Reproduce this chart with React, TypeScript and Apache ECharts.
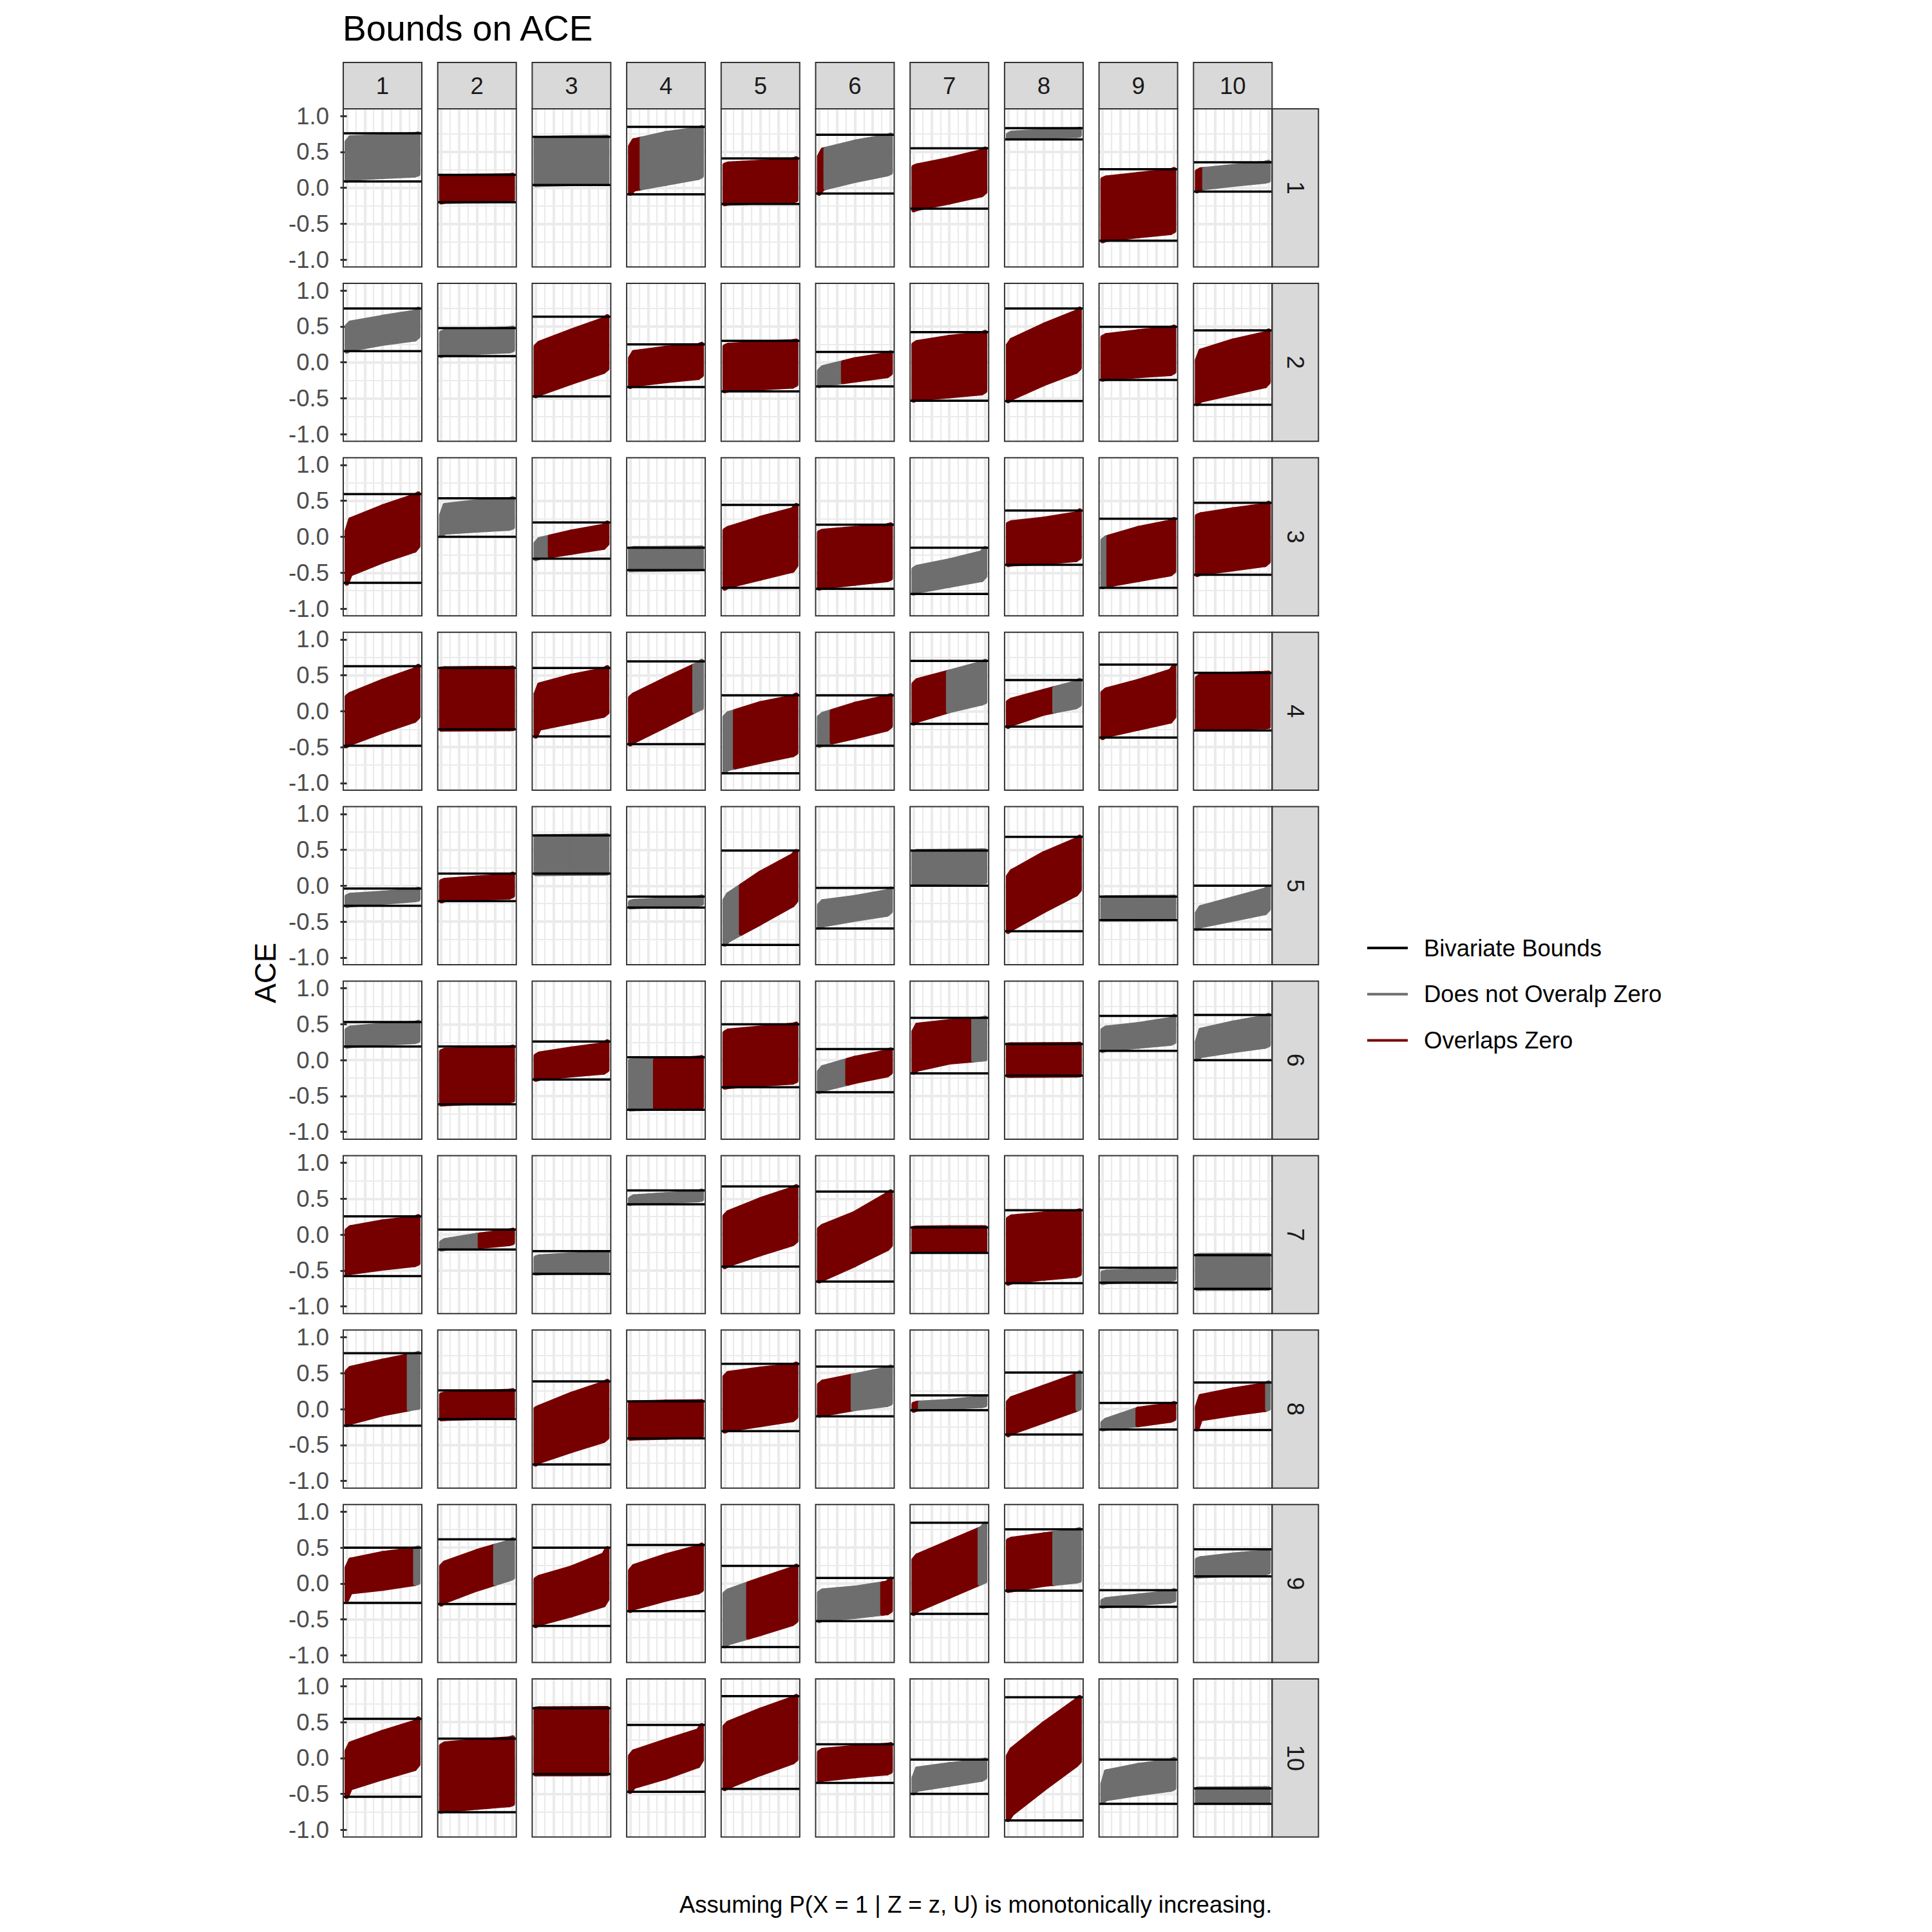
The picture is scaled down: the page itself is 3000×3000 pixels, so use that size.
import React, { useEffect, useRef } from "react";
import * as echarts from "echarts";

// ---------------- data ----------------
const FACETS = ["1", "2", "3", "4", "5", "6", "7", "8", "9", "10"];
const X_POS = [0, 0.05, 0.5, 0.95, 1];
const Y_TICKS = [-1, -0.5, 0, 0.5, 1];

// Bivariate bounds (horizontal black lines), [row][col]
const BIV_LOWER = [
  [0.09, -0.2, 0.04, -0.09, -0.225, -0.08, -0.29, 0.675, -0.735, -0.053],
  [0.155, 0.085, -0.475, -0.345, -0.405, -0.335, -0.535, -0.54, -0.245, -0.59],
  [-0.64, 0.0, -0.305, -0.465, -0.71, -0.725, -0.795, -0.39, -0.71, -0.53],
  [-0.48, -0.252, -0.35, -0.458, -0.863, -0.48, -0.176, -0.214, -0.366, -0.267],
  [-0.28, -0.214, 0.168, -0.305, -0.824, -0.595, 0.0, -0.634, -0.48, -0.61],
  [0.19, -0.615, -0.27, -0.69, -0.377, -0.446, -0.185, -0.215, 0.13, 0.0],
  [-0.577, -0.208, -0.546, 0.423, -0.446, -0.654, -0.254, -0.677, -0.67, -0.754],
  [-0.23, -0.138, -0.77, -0.408, -0.308, -0.1, -0.015, -0.354, -0.285, -0.292],
  [-0.27, -0.285, -0.59, -0.385, -0.885, -0.523, -0.423, -0.1, -0.323, 0.1],
  [-0.54, -0.754, -0.223, -0.47, -0.43, -0.346, -0.5, -0.87, -0.638, -0.638],
];
const BIV_UPPER = [
  [0.76, 0.18, 0.71, 0.85, 0.41, 0.74, 0.55, 0.83, 0.26, 0.357],
  [0.75, 0.475, 0.635, 0.25, 0.3, 0.145, 0.42, 0.75, 0.495, 0.445],
  [0.595, 0.535, 0.2, -0.152, 0.443, 0.168, -0.153, 0.366, 0.25, 0.473],
  [0.626, 0.603, 0.603, 0.695, 0.22, 0.22, 0.7, 0.435, 0.65, 0.534],
  [-0.04, 0.168, 0.7, -0.153, 0.488, -0.03, 0.488, 0.68, -0.153, 0.0],
  [0.53, 0.19, 0.26, 0.04, 0.5, 0.154, 0.59, 0.223, 0.615, 0.63],
  [0.254, 0.07, -0.23, 0.615, 0.67, 0.6, 0.1, 0.34, -0.46, -0.285],
  [0.777, 0.26, 0.385, 0.108, 0.63, 0.592, 0.19, 0.508, 0.085, 0.37],
  [0.5, 0.615, 0.5, 0.538, 0.246, 0.077, 0.846, 0.754, -0.092, 0.477],
  [0.546, 0.27, 0.692, 0.46, 0.86, 0.19, -0.023, 0.846, -0.023, -0.423],
];

// Lower edge of the ACE bounds band at X_POS, [row][col][k]
const BAND_LOWER = [
  [[0.1, 0.13, 0.155, 0.175, 0.19], [-0.2, -0.19, -0.185, -0.175, -0.165], [0.04, 0.045, 0.055, 0.065, 0.07], [-0.08, -0.02, 0.06, 0.14, 0.165], [-0.225, -0.215, -0.2, -0.185, -0.17], [-0.08, -0.01, 0.1, 0.19, 0.21], [-0.31, -0.29, -0.2, -0.1, -0.06], [0.69, 0.7, 0.715, 0.725, 0.735], [-0.74, -0.72, -0.67, -0.625, -0.6], [-0.045, -0.006, 0.045, 0.09, 0.1]],
  [[0.15, 0.18, 0.26, 0.32, 0.36], [0.09, 0.11, 0.135, 0.155, 0.17], [-0.47, -0.44, -0.28, -0.13, -0.09], [-0.34, -0.31, -0.26, -0.215, -0.18], [-0.4, -0.385, -0.36, -0.335, -0.31], [-0.33, -0.31, -0.25, -0.19, -0.155], [-0.53, -0.51, -0.47, -0.43, -0.4], [-0.54, -0.5, -0.3, -0.13, -0.08], [-0.24, -0.225, -0.19, -0.16, -0.135], [-0.58, -0.53, -0.43, -0.33, -0.28]],
  [[-0.65, -0.52, -0.34, -0.19, -0.13], [0.02, 0.06, 0.09, 0.115, 0.13], [-0.31, -0.29, -0.22, -0.15, -0.1], [-0.465, -0.46, -0.455, -0.45, -0.44], [-0.72, -0.69, -0.58, -0.47, -0.4], [-0.72, -0.7, -0.65, -0.6, -0.58], [-0.79, -0.76, -0.68, -0.6, -0.55], [-0.39, -0.38, -0.36, -0.32, -0.29], [-0.7, -0.68, -0.6, -0.52, -0.48], [-0.53, -0.51, -0.45, -0.39, -0.35]],
  [[-0.48, -0.45, -0.28, -0.13, -0.08], [-0.255, -0.252, -0.25, -0.248, -0.245], [-0.35, -0.24, -0.15, -0.06, -0.02], [-0.46, -0.42, -0.2, 0.025, 0.045], [-0.84, -0.8, -0.7, -0.61, -0.58], [-0.48, -0.46, -0.36, -0.25, -0.21], [-0.17, -0.13, 0.005, 0.11, 0.13], [-0.215, -0.18, -0.03, 0.06, 0.09], [-0.37, -0.34, -0.24, -0.14, -0.08], [-0.245, -0.24, -0.23, -0.22, -0.215]],
  [[-0.28, -0.27, -0.235, -0.2, -0.19], [-0.215, -0.2, -0.18, -0.16, -0.14], [0.165, 0.165, 0.168, 0.17, 0.172], [-0.3, -0.295, -0.28, -0.26, -0.25], [-0.82, -0.76, -0.52, -0.27, -0.21], [-0.58, -0.55, -0.47, -0.4, -0.36], [0.03, 0.04, 0.045, 0.05, 0.055], [-0.64, -0.6, -0.35, -0.12, -0.06], [-0.47, -0.468, -0.465, -0.46, -0.455], [-0.6, -0.56, -0.47, -0.38, -0.33]],
  [[0.19, 0.2, 0.23, 0.255, 0.27], [-0.615, -0.61, -0.59, -0.57, -0.56], [-0.27, -0.255, -0.21, -0.17, -0.14], [-0.685, -0.68, -0.67, -0.66, -0.65], [-0.38, -0.37, -0.34, -0.31, -0.29], [-0.44, -0.41, -0.3, -0.21, -0.175], [-0.17, -0.13, -0.03, 0.01, 0.015], [-0.215, -0.215, -0.213, -0.212, -0.21], [0.13, 0.15, 0.19, 0.23, 0.25], [0.01, 0.06, 0.13, 0.19, 0.21]],
  [[-0.56, -0.53, -0.47, -0.42, -0.4], [-0.205, -0.195, -0.17, -0.13, -0.115], [-0.54, -0.535, -0.52, -0.505, -0.5], [0.43, 0.44, 0.46, 0.48, 0.49], [-0.45, -0.42, -0.27, -0.13, -0.09], [-0.65, -0.62, -0.42, -0.2, -0.15], [-0.24, -0.235, -0.232, -0.23, -0.23], [-0.68, -0.66, -0.61, -0.57, -0.55], [-0.67, -0.66, -0.64, -0.625, -0.615], [-0.754, -0.753, -0.752, -0.751, -0.75]],
  [[-0.22, -0.19, -0.07, 0.015, 0.02], [-0.14, -0.135, -0.12, -0.105, -0.1], [-0.77, -0.73, -0.58, -0.44, -0.4], [-0.41, -0.405, -0.395, -0.38, -0.37], [-0.31, -0.29, -0.22, -0.15, -0.11], [-0.09, -0.075, 0.005, 0.06, 0.078], [-0.02, -0.002, 0.02, 0.045, 0.055], [-0.36, -0.33, -0.17, -0.01, 0.01], [-0.28, -0.27, -0.22, -0.16, -0.14], [-0.28, -0.14, -0.07, -0.01, 0.005]],
  [[-0.23, -0.12, -0.07, -0.003, 0.012], [-0.29, -0.25, -0.08, 0.06, 0.08], [-0.59, -0.56, -0.44, -0.3, -0.22], [-0.38, -0.34, -0.22, -0.12, -0.09], [-0.87, -0.83, -0.7, -0.56, -0.52], [-0.52, -0.5, -0.46, -0.41, -0.38], [-0.42, -0.37, -0.18, 0.01, 0.03], [-0.1, -0.09, -0.015, 0.03, 0.04], [-0.32, -0.31, -0.28, -0.245, -0.23], [0.1, 0.105, 0.125, 0.145, 0.155]],
  [[-0.54, -0.42, -0.28, -0.15, -0.09], [-0.745, -0.73, -0.69, -0.655, -0.64], [-0.225, -0.224, -0.223, -0.222, -0.22], [-0.47, -0.4, -0.27, -0.11, -0.03], [-0.43, -0.4, -0.22, -0.06, -0.02], [-0.32, -0.3, -0.25, -0.21, -0.19], [-0.49, -0.44, -0.37, -0.3, -0.275], [-0.86, -0.78, -0.43, -0.1, -0.05], [-0.61, -0.57, -0.5, -0.44, -0.42], [-0.61, -0.605, -0.6, -0.6, -0.6]],
];

// Upper edge of the ACE bounds band at X_POS, [row][col][k]
const BAND_UPPER = [
  [[0.64, 0.7, 0.72, 0.745, 0.755], [0.15, 0.16, 0.165, 0.172, 0.178], [0.68, 0.69, 0.7, 0.705, 0.71], [0.58, 0.66, 0.76, 0.82, 0.845], [0.32, 0.335, 0.36, 0.39, 0.41], [0.44, 0.53, 0.64, 0.72, 0.74], [0.29, 0.31, 0.4, 0.51, 0.545], [0.74, 0.765, 0.79, 0.81, 0.82], [0.12, 0.14, 0.19, 0.24, 0.26], [0.23, 0.255, 0.3, 0.345, 0.36]],
  [[0.5, 0.55, 0.63, 0.7, 0.745], [0.41, 0.435, 0.455, 0.47, 0.48], [0.22, 0.27, 0.44, 0.6, 0.64], [0.06, 0.14, 0.2, 0.235, 0.255], [0.22, 0.24, 0.27, 0.29, 0.3], [-0.12, -0.07, 0.04, 0.11, 0.135], [0.25, 0.28, 0.35, 0.4, 0.42], [0.24, 0.31, 0.52, 0.7, 0.745], [0.35, 0.375, 0.43, 0.475, 0.495], [0.03, 0.16, 0.3, 0.4, 0.44]],
  [[0.08, 0.24, 0.42, 0.57, 0.6], [0.3, 0.44, 0.49, 0.52, 0.535], [-0.09, -0.035, 0.07, 0.15, 0.195], [-0.17, -0.16, -0.158, -0.155, -0.15], [0.09, 0.12, 0.26, 0.38, 0.44], [0.06, 0.08, 0.12, 0.155, 0.17], [-0.45, -0.42, -0.33, -0.22, -0.16], [0.18, 0.2, 0.25, 0.32, 0.365], [-0.05, -0.01, 0.12, 0.21, 0.245], [0.29, 0.31, 0.38, 0.44, 0.47]],
  [[0.2, 0.24, 0.42, 0.58, 0.63], [0.59, 0.595, 0.6, 0.6, 0.605], [0.24, 0.37, 0.49, 0.58, 0.61], [0.19, 0.23, 0.45, 0.66, 0.7], [-0.08, -0.03, 0.11, 0.2, 0.23], [-0.08, -0.04, 0.1, 0.2, 0.22], [0.38, 0.43, 0.55, 0.67, 0.7], [0.13, 0.16, 0.28, 0.4, 0.435], [0.26, 0.3, 0.42, 0.56, 0.63], [0.46, 0.5, 0.52, 0.53, 0.535]],
  [[-0.15, -0.13, -0.1, -0.065, -0.045], [0.06, 0.08, 0.11, 0.14, 0.165], [0.68, 0.685, 0.69, 0.695, 0.7], [-0.23, -0.215, -0.19, -0.165, -0.153], [-0.2, -0.12, 0.18, 0.42, 0.48], [-0.27, -0.22, -0.16, -0.08, -0.04], [0.47, 0.48, 0.485, 0.488, 0.49], [0.13, 0.2, 0.45, 0.64, 0.68], [-0.17, -0.165, -0.16, -0.158, -0.155], [-0.38, -0.3, -0.18, -0.06, -0.02]],
  [[0.42, 0.45, 0.49, 0.515, 0.53], [0.12, 0.14, 0.16, 0.175, 0.185], [0.06, 0.09, 0.16, 0.22, 0.26], [-0.012, -0.008, 0.004, 0.03, 0.04], [0.38, 0.41, 0.45, 0.49, 0.505], [-0.16, -0.1, 0.03, 0.12, 0.148], [0.4, 0.49, 0.54, 0.575, 0.59], [0.215, 0.218, 0.22, 0.222, 0.225], [0.42, 0.45, 0.5, 0.57, 0.615], [0.26, 0.42, 0.52, 0.6, 0.63]],
  [[0.06, 0.1, 0.18, 0.235, 0.255], [-0.11, -0.08, -0.005, 0.05, 0.065], [-0.32, -0.305, -0.28, -0.255, -0.245], [0.5, 0.53, 0.56, 0.59, 0.61], [0.26, 0.31, 0.49, 0.64, 0.67], [0.08, 0.12, 0.3, 0.56, 0.6], [0.09, 0.095, 0.1, 0.1, 0.1], [0.22, 0.25, 0.29, 0.32, 0.335], [-0.53, -0.52, -0.5, -0.485, -0.475], [-0.29, -0.288, -0.286, -0.285, -0.284]],
  [[0.52, 0.57, 0.67, 0.76, 0.78], [0.2, 0.215, 0.235, 0.25, 0.26], [0.005, 0.03, 0.21, 0.36, 0.39], [0.08, 0.09, 0.1, 0.105, 0.108], [0.45, 0.5, 0.56, 0.61, 0.63], [0.34, 0.38, 0.47, 0.56, 0.59], [0.07, 0.085, 0.11, 0.16, 0.175], [0.1, 0.15, 0.31, 0.47, 0.51], [-0.19, -0.15, 0.003, 0.06, 0.08], [0.03, 0.18, 0.27, 0.34, 0.37]],
  [[0.22, 0.33, 0.42, 0.48, 0.5], [0.24, 0.29, 0.45, 0.58, 0.615], [0.06, 0.09, 0.22, 0.4, 0.49], [0.18, 0.24, 0.39, 0.51, 0.54], [-0.14, -0.1, 0.06, 0.21, 0.245], [-0.13, -0.1, -0.06, 0.01, 0.065], [0.33, 0.39, 0.58, 0.77, 0.83], [0.6, 0.62, 0.68, 0.74, 0.755], [-0.24, -0.22, -0.17, -0.12, -0.095], [0.33, 0.35, 0.4, 0.44, 0.46]],
  [[0.1, 0.2, 0.36, 0.5, 0.55], [0.17, 0.2, 0.24, 0.27, 0.285], [0.685, 0.688, 0.69, 0.692, 0.693], [0.03, 0.09, 0.24, 0.38, 0.455], [0.44, 0.49, 0.67, 0.83, 0.86], [0.08, 0.11, 0.15, 0.18, 0.19], [-0.28, -0.15, -0.09, -0.04, -0.025], [0.03, 0.12, 0.48, 0.8, 0.846], [-0.36, -0.19, -0.1, -0.04, -0.015], [-0.43, -0.428, -0.425, -0.424, -0.423]],
];

const LEGEND_NAMES = ["Bivariate Bounds", "Does not Overalp Zero", "Overlaps Zero"];
const TITLE = "Bounds on ACE";
const Y_TITLE = "ACE";
const CAPTION = "Assuming P(X = 1 | Z = z, U) is monotonically increasing.";

// ---------------- style / layout ----------------
const FONT = "'Liberation Sans', Arial, Helvetica, sans-serif";
const GREY = "#6E6E6E";
const RED = "#760000";
const BLACK = "#000000";
const GRID_COL = "#EBEBEB";
const BORDER = "#333333";
const STRIP_FILL = "#D9D9D9";

const L0 = 533;
const PW = 122;
const PX = 146.7;
const T0 = 169;
const PH = 245.4;
const PY = 270.9;
const X_MIN = -0.05;
const X_MAX = 1.05;

function overlapsZero(lo: number, hi: number) {
  return lo <= 0 && hi >= 0;
}

function renderBand(_params: any, api: any) {
  const x0 = api.value(0);
  const x1 = api.value(1);
  const lo0 = api.value(2);
  const hi0 = api.value(3);
  const lo1 = api.value(4);
  const hi1 = api.value(5);
  const ts: number[] = [0, 1];
  const cross = (a: number, b: number) => {
    if ((a < 0 && b > 0) || (a > 0 && b < 0)) ts.push(a / (a - b));
  };
  cross(lo0, lo1);
  cross(hi0, hi1);
  ts.sort((a, b) => a - b);
  const at = (t: number) => ({
    x: x0 + (x1 - x0) * t,
    lo: lo0 + (lo1 - lo0) * t,
    hi: hi0 + (hi1 - hi0) * t,
  });
  const children: any[] = [];
  for (let k = 0; k < ts.length - 1; k++) {
    const ta = ts[k];
    const tb = ts[k + 1];
    if (tb - ta < 1e-9) continue;
    const A = at(ta);
    const B = at(tb);
    const M = at((ta + tb) / 2);
    const color = overlapsZero(M.lo, M.hi) ? RED : GREY;
    children.push({
      type: "polygon",
      shape: {
        points: [
          api.coord([A.x, A.lo]),
          api.coord([B.x, B.lo]),
          api.coord([B.x, B.hi]),
          api.coord([A.x, A.hi]),
        ],
      },
      style: { fill: color, stroke: color, lineWidth: 7, lineJoin: "round" },
    });
  }
  return { type: "group", children };
}

function buildOption() {
  const grid: any[] = [];
  const xAxis: any[] = [];
  const yAxis: any[] = [];
  const series: any[] = [];
  const graphic: any[] = [];

  for (let r = 0; r < 10; r++) {
    for (let c = 0; c < 10; c++) {
      const idx = r * 10 + c;
      const left = L0 + c * PX;
      const top = T0 + r * PY;
      grid.push({ left, top, width: PW, height: PH, show: true, backgroundColor: "#ffffff", borderWidth: 0 });
      xAxis.push({
        gridIndex: idx,
        type: "value",
        min: X_MIN,
        max: X_MAX,
        splitNumber: 4,
        minInterval: 0.25,
        maxInterval: 0.25,
        axisLine: { show: false },
        axisTick: { show: false },
        axisLabel: { show: false },
        splitLine: { show: true, showMinLine: false, showMaxLine: false, lineStyle: { color: GRID_COL, width: 4.2 } },
        minorTick: { show: false, splitNumber: 2 },
        minorSplitLine: { show: true, lineStyle: { color: GRID_COL, width: 2.2 } },
      });
      yAxis.push({
        gridIndex: idx,
        type: "value",
        min: -1.1,
        max: 1.1,
        splitNumber: 4,
        minInterval: 0.5,
        maxInterval: 0.5,
        axisLine: { show: false },
        axisTick: { show: c === 0, length: 10, customValues: Y_TICKS, lineStyle: { color: BORDER, width: 3 } },
        axisLabel: {
          show: c === 0,
          customValues: Y_TICKS,
          formatter: (v: number) => (Math.abs(v) > 1.05 ? "" : v.toFixed(1)),
          fontSize: 36.5,
          color: "#4D4D4D",
          fontFamily: FONT,
          margin: 22,
        },
        splitLine: { show: true, showMinLine: false, showMaxLine: false, lineStyle: { color: GRID_COL, width: 4.2 } },
        minorTick: { show: false, splitNumber: 2 },
        minorSplitLine: { show: true, lineStyle: { color: GRID_COL, width: 2.2 } },
      });

      const lo = BAND_LOWER[r][c];
      const hi = BAND_UPPER[r][c];
      const segs: number[][] = [];
      for (let k = 0; k < X_POS.length - 1; k++) {
        segs.push([X_POS[k], X_POS[k + 1], lo[k], hi[k], lo[k + 1], hi[k + 1]]);
      }
      series.push({
        type: "custom",
        name: "band",
        xAxisIndex: idx,
        yAxisIndex: idx,
        renderItem: renderBand,
        encode: { x: [0, 1], y: [2, 3, 4, 5] },
        data: segs,
        clip: true,
        silent: true,
        z: 2,
      });
      [BIV_LOWER[r][c], BIV_UPPER[r][c]].forEach((v) => {
        series.push({
          type: "line",
          name: LEGEND_NAMES[0],
          xAxisIndex: idx,
          yAxisIndex: idx,
          data: [
            [X_MIN, v],
            [X_MAX, v],
          ],
          symbol: "none",
          silent: true,
          itemStyle: { color: BLACK },
          lineStyle: { color: BLACK, width: 3.5 },
          z: 3,
        });
      });

      // panel border
      graphic.push({
        type: "rect",
        z: 100,
        silent: true,
        shape: { x: left, y: top, width: PW, height: PH },
        style: { fill: "none", stroke: BORDER, lineWidth: 2 },
      });
    }
  }

  // legend-only series
  series.push({
    type: "line",
    name: LEGEND_NAMES[1],
    data: [],
    itemStyle: { color: GREY },
    lineStyle: { color: GREY, width: 3.5 },
    xAxisIndex: 0,
    yAxisIndex: 0,
  });
  series.push({
    type: "line",
    name: LEGEND_NAMES[2],
    data: [],
    itemStyle: { color: RED },
    lineStyle: { color: RED, width: 3.5 },
    xAxisIndex: 0,
    yAxisIndex: 0,
  });

  // strips
  for (let c = 0; c < 10; c++) {
    const left = L0 + c * PX;
    graphic.push({
      type: "rect",
      z: 90,
      silent: true,
      shape: { x: left, y: 97, width: PW, height: T0 - 97 },
      style: { fill: STRIP_FILL, stroke: BORDER, lineWidth: 2 },
    });
    graphic.push({
      type: "text",
      z: 91,
      silent: true,
      x: left + PW / 2,
      y: 133,
      style: { text: FACETS[c], align: "center", verticalAlign: "middle", fontSize: 36.5, fill: "#1A1A1A", fontFamily: FONT },
    });
  }
  const stripX = L0 + 9 * PX + PW;
  for (let r = 0; r < 10; r++) {
    const top = T0 + r * PY;
    graphic.push({
      type: "rect",
      z: 90,
      silent: true,
      shape: { x: stripX, y: top, width: 72, height: PH },
      style: { fill: STRIP_FILL, stroke: BORDER, lineWidth: 2 },
    });
    graphic.push({
      type: "text",
      z: 91,
      silent: true,
      x: stripX + 36,
      y: top + PH / 2,
      rotation: -Math.PI / 2,
      style: { text: FACETS[r], align: "center", verticalAlign: "middle", fontSize: 36.5, fill: "#1A1A1A", fontFamily: FONT },
    });
  }

  // y axis title
  graphic.push({
    type: "text",
    silent: true,
    x: 412,
    y: T0 + (9 * PY + PH) / 2,
    rotation: Math.PI / 2,
    style: { text: Y_TITLE, align: "center", verticalAlign: "middle", fontSize: 45.8, fill: "#000", fontFamily: FONT },
  });
  // caption
  graphic.push({
    type: "text",
    silent: true,
    x: L0 + 9 * PX + PW,
    y: 2957,
    style: { text: CAPTION, align: "right", verticalAlign: "middle", fontSize: 36.5, fill: "#000", fontFamily: FONT },
  });

  return {
    animation: false,
    backgroundColor: "#ffffff",
    title: {
      text: TITLE,
      left: 532,
      top: 16,
      padding: 0,
      textStyle: { fontSize: 55, fontWeight: "normal", color: "#000", fontFamily: FONT, lineHeight: 55 },
    },
    legend: {
      orient: "vertical",
      left: 2118,
      top: 1447,
      itemWidth: 63,
      itemHeight: 4,
      itemGap: 31.7,
      selectedMode: false,
      itemStyle: { borderWidth: 0 },
      data: LEGEND_NAMES.map((n) => ({ name: n, icon: "rect" })),
      textStyle: { fontSize: 36.5, color: "#000", fontFamily: FONT, lineHeight: 40, padding: [0, 0, 0, 20] },
    },
    grid,
    xAxis,
    yAxis,
    series,
    graphic,
  };
}

export default function App() {
  const ref = useRef<HTMLDivElement>(null);
  useEffect(() => {
    if (!ref.current) return;
    const chart = echarts.init(ref.current, undefined, { renderer: "svg" });
    chart.setOption(buildOption() as any);
    return () => chart.dispose();
  }, []);
  return (
    <div
      ref={ref}
      style={{ position: "absolute", left: 0, top: 0, width: 3000, height: 3000, background: "#fff" }}
    />
  );
}
